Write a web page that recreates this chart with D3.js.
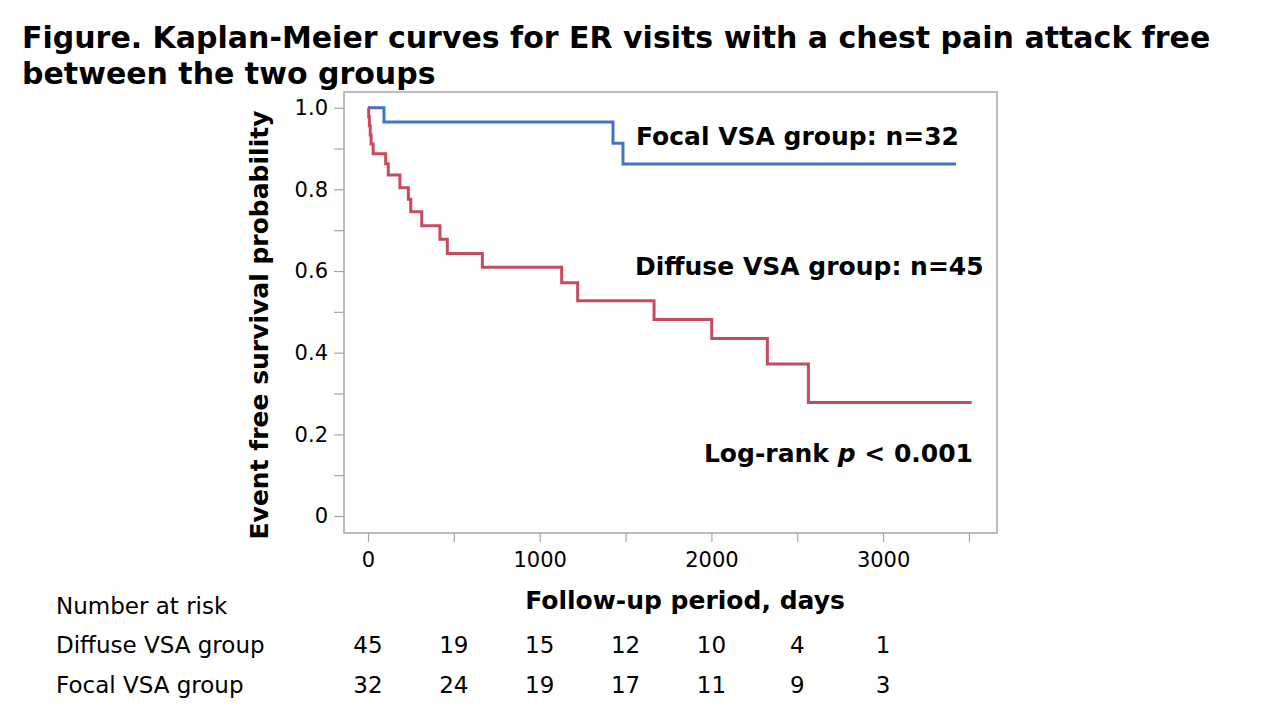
<!DOCTYPE html>
<html>
<head>
<meta charset="utf-8">
<script src="https://cdn.jsdelivr.net/npm/d3@7"></script>
<style>
  body { margin: 0; background: #fff; }
  svg text { font-family: "DejaVu Sans", Verdana, sans-serif; fill: #000; }
</style>
</head>
<body>
<div id="container"></div>
<script>
// step survival curves
var diffuse_t = [0, 4, 8, 13, 18, 30, 103, 118, 186, 235, 249, 313, 419, 462, 666, 1128, 1221, 1666, 2002, 2326, 2565];
var diffuse_s = [1, 0.978, 0.956, 0.933, 0.911, 0.887, 0.863, 0.835, 0.804, 0.776, 0.745, 0.711, 0.678, 0.643, 0.609, 0.571, 0.527, 0.481, 0.435, 0.372, 0.278];
var diffuse_end = 3516;

var focal_t = [0, 93, 1427, 1485];
var focal_s = [1, 0.965, 0.913, 0.862];
var focal_end = 3425;

var risk_days = [0, 500, 1000, 1500, 2000, 2500, 3000];
var risk_diffuse = [45, 19, 15, 12, 10, 4, 1];
var risk_focal = [32, 24, 19, 17, 11, 9, 3];

var x_ticks = [0, 1000, 2000, 3000];
var x_minor = [500, 1500, 2500, 3500];
var y_ticks = [0, 0.2, 0.4, 0.6, 0.8, 1.0];
var y_minor = [0.1, 0.3, 0.5, 0.7, 0.9];

var blue = "#4472c4", red = "#c84a5e", frame_col = "#a6a6a6";

var svg = d3.select("#container").append("svg")
    .attr("width", 1280).attr("height", 720);

var p_left = 344, p_right = 997, p_top = 92, p_bottom = 533;

var x = d3.scaleLinear().domain([0, 1000]).range([368, 539.7]);
var y = d3.scaleLinear().domain([0, 1]).range([516, 107.7]);

// title
svg.append("text").attr("x", 22).attr("y", 48)
    .style("font-size", "30px").style("font-weight", "bold")
    .text("Figure. Kaplan-Meier curves for ER visits with a chest pain attack free");
svg.append("text").attr("x", 22).attr("y", 84)
    .style("font-size", "30px").style("font-weight", "bold")
    .text("between the two groups");

// plot frame
svg.append("rect")
    .attr("x", p_left).attr("y", p_top)
    .attr("width", p_right - p_left).attr("height", p_bottom - p_top)
    .style("fill", "none").style("stroke", frame_col).style("stroke-width", 1.5);

// y axis
svg.append("g").attr("transform", "translate(" + p_left + ",0)")
    .call(d3.axisLeft(y).tickValues(y_ticks).tickSize(10).tickPadding(6)
        .tickFormat(function(d){ return d == 0 ? "0" : d3.format(".1f")(d); }));
svg.append("g").attr("transform", "translate(" + p_left + ",0)")
    .call(d3.axisLeft(y).tickValues(y_minor).tickSize(10).tickFormat(""));

// x axis
svg.append("g").attr("transform", "translate(0," + p_bottom + ")")
    .call(d3.axisBottom(x).tickValues(x_ticks).tickSize(9).tickPadding(10).tickFormat(d3.format("d")));
svg.append("g").attr("transform", "translate(0," + p_bottom + ")")
    .call(d3.axisBottom(x).tickValues(x_minor).tickSize(9).tickFormat(""));

svg.selectAll(".domain").remove();
svg.selectAll(".tick line").style("stroke", frame_col).style("stroke-width", 1.2);
svg.selectAll(".tick text")
    .style("font-family", "'DejaVu Sans', sans-serif")
    .style("font-size", "21px").style("fill", "#000");

// curves
var step = d3.line()
    .x(function(d){ return x(d[0]); })
    .y(function(d){ return y(d[1]); })
    .curve(d3.curveStepAfter);

var pts = function(t, s, end){
    var p = t.map(function(a, i){ return [a, s[i]]; });
    p.push([end, s[s.length - 1]]);
    return p;
};

svg.append("path").datum(pts(focal_t, focal_s, focal_end))
    .attr("d", step).style("fill", "none").style("stroke", blue).style("stroke-width", 3);
svg.append("path").datum(pts(diffuse_t, diffuse_s, diffuse_end))
    .attr("d", step).style("fill", "none").style("stroke", red).style("stroke-width", 3);

// annotations
svg.append("text").attr("x", 636).attr("y", 145)
    .style("font-size", "25px").style("font-weight", "bold")
    .text("Focal VSA group: n=32");
svg.append("text").attr("x", 635).attr("y", 275)
    .style("font-size", "25px").style("font-weight", "bold")
    .text("Diffuse VSA group: n=45");
var lr = svg.append("text").attr("x", 973).attr("y", 462)
    .attr("text-anchor", "end")
    .style("font-size", "25px").style("font-weight", "bold");
lr.append("tspan").text("Log-rank ");
lr.append("tspan").style("font-style", "italic").text("p");
lr.append("tspan").text(" < 0.001");

// axis titles
svg.append("text")
    .attr("transform", "translate(268,325) rotate(-90)")
    .attr("text-anchor", "middle")
    .style("font-size", "25px").style("font-weight", "bold")
    .text("Event free survival probability");
svg.append("text").attr("x", 685).attr("y", 609)
    .attr("text-anchor", "middle")
    .style("font-size", "25px").style("font-weight", "bold")
    .text("Follow-up period, days");

// number at risk table
var tbl = svg.append("g").style("font-size", "23px");
tbl.append("text").attr("x", 56).attr("y", 614).text("Number at risk");
tbl.append("text").attr("x", 56).attr("y", 653).text("Diffuse VSA group");
tbl.append("text").attr("x", 56).attr("y", 693).text("Focal VSA group");

tbl.selectAll("text.rd").data(risk_diffuse).enter().append("text")
    .attr("class", "rd")
    .attr("x", function(d, i){ return x(risk_days[i]); })
    .attr("y", 653).attr("text-anchor", "middle")
    .text(function(d){ return d; });
tbl.selectAll("text.rf").data(risk_focal).enter().append("text")
    .attr("class", "rf")
    .attr("x", function(d, i){ return x(risk_days[i]); })
    .attr("y", 693).attr("text-anchor", "middle")
    .text(function(d){ return d; });
</script>
</body>
</html>
